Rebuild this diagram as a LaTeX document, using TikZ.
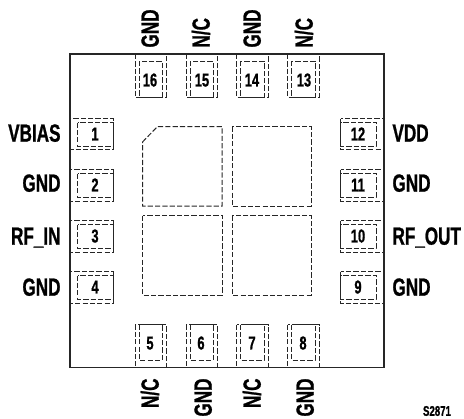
\documentclass[tikz,border=0pt]{standalone}
\usepackage{fontspec}
\setmainfont{Liberation Sans}
\newfontfamily\pinfont[FakeStretch=0.69,FakeBold=0.9]{Liberation Sans Bold}

\tikzset{every picture/.style={line width=0.75pt}}
\tikzset{
  padline/.style={draw=black!85,line width=0.75pt,dash pattern=on 3.9pt off 1.6pt},
  pinname/.style={inner sep=0pt,font=\pinfont\fontsize{18.6}{18.6}\selectfont,text height=13pt,text depth=0pt},
  padnum/.style={inner sep=0pt,font=\pinfont\fontsize{14}{14}\selectfont,text height=9.7pt,text depth=0pt},
  partnum/.style={inner sep=0pt,font=\pinfont\fontsize{10.5}{10.5}\selectfont}
}

\begin{document}
\begin{tikzpicture}[x=0.75pt,y=0.75pt,yscale=-1,xscale=1]
        \useasboundingbox (0,0) rectangle (464,418);

        %Shape: Left pads
        \draw [padline] (70,118.5) rectangle (113,149.5);
        \draw [padline] (77.5,122.5) rectangle (113,146);
        \draw [padline] (70,169.5) rectangle (113,201);
        \draw [padline] (77.5,173.5) rectangle (113,197);
        \draw [padline] (70,220.5) rectangle (113,252);
        \draw [padline] (77.5,224.5) rectangle (113,248);
        \draw [padline] (70,271.5) rectangle (113,303);
        \draw [padline] (77.5,275.5) rectangle (113,299);
        %Shape: Right pads
        \draw [padline] (340.5,118.5) rectangle (384,149.5);
        \draw [padline] (340.5,122.5) rectangle (376,146);
        \draw [padline] (340.5,169.5) rectangle (384,201);
        \draw [padline] (340.5,173.5) rectangle (376,197);
        \draw [padline] (340.5,220.5) rectangle (384,252);
        \draw [padline] (340.5,224.5) rectangle (376,248);
        \draw [padline] (340.5,271.5) rectangle (384,303);
        \draw [padline] (340.5,275.5) rectangle (376,299);
        %Shape: Top pads
        \draw [padline] (135,54) rectangle (166,97);
        \draw [padline] (139,61) rectangle (162,97);
        \draw [padline] (186,54) rectangle (217,97);
        \draw [padline] (190,61) rectangle (213,97);
        \draw [padline] (236.5,54) rectangle (268,97);
        \draw [padline] (240.5,61) rectangle (264,97);
        \draw [padline] (287.5,54) rectangle (319,97);
        \draw [padline] (291.5,61) rectangle (315,97);
        %Shape: Bottom pads
        \draw [padline] (135,324.5) rectangle (166,367.5);
        \draw [padline] (139,324.5) rectangle (162,360);
        \draw [padline] (186,324.5) rectangle (217,367.5);
        \draw [padline] (190,324.5) rectangle (213,360);
        \draw [padline] (236.5,324.5) rectangle (268,367.5);
        \draw [padline] (240.5,324.5) rectangle (264,360);
        \draw [padline] (287.5,324.5) rectangle (319,367.5);
        \draw [padline] (291.5,324.5) rectangle (315,360);
        %Shape: Centre paddles
        \draw [padline] (142.5,142) -- (157.5,126.5) -- (222,126.5) -- (222,206) -- (142.5,206) -- cycle;
        \draw [padline] (232,126.5) rectangle (311,206);
        \draw [padline] (142.5,215.5) rectangle (222,295);
        \draw [padline] (232,215.5) rectangle (311,295);
        %Shape: Package outline
        \draw [line width=1.2pt,draw=black!85] (70,54) rectangle (384,367.5);

        % Text Node
        \node [padnum] (num1) at (95,134) {1};
        \node [padnum] (num2) at (95,185) {2};
        \node [padnum] (num3) at (95,236) {3};
        \node [padnum] (num4) at (95,287) {4};
        \node [padnum] (num5) at (150,343) {5};
        \node [padnum] (num6) at (201,343) {6};
        \node [padnum] (num7) at (252,343) {7};
        \node [padnum] (num8) at (303,343) {8};
        \node [padnum] (num9) at (358,287) {9};
        \node [padnum] (num10) at (358,236) {10};
        \node [padnum] (num11) at (358,185) {11};
        \node [padnum] (num12) at (358,134) {12};
        \node [padnum] (num13) at (304,80) {13};
        \node [padnum] (num14) at (252,80) {14};
        \node [padnum] (num15) at (202,80) {15};
        \node [padnum] (num16) at (150,80) {16};

        % Text Node
        \node [pinname,anchor=east] (vbias) at (61,133) {VBIAS};
        \node [pinname,anchor=east] (gndb) at (61,183) {GND};
        \node [pinname,anchor=east] (rfin) at (61,236) {RF\_IN};
        \node [pinname,anchor=east] (gndd) at (61,287) {GND};
        \node [pinname,anchor=west] (vdd) at (392,133) {VDD};
        \node [pinname,anchor=west] (gndk) at (392,183) {GND};
        \node [pinname,anchor=west] (rfout) at (392,236) {RF\_OUT};
        \node [pinname,anchor=west] (gndi) at (392,287) {GND};
        \node [pinname,anchor=west,rotate=90] (gndp) at (150,48) {GND};
        \node [pinname,anchor=west,rotate=90] (ncl) at (201,48) {N/C};
        \node [pinname,anchor=west,rotate=90] (gndn) at (252,48) {GND};
        \node [pinname,anchor=west,rotate=90] (ncm) at (304,48) {N/C};
        \node [pinname,anchor=east,rotate=90] (nce) at (150,378) {N/C};
        \node [pinname,anchor=east,rotate=90] (gndf) at (203,378) {GND};
        \node [pinname,anchor=east,rotate=90] (ncg) at (252,378) {N/C};
        \node [pinname,anchor=east,rotate=90] (gndh) at (305,378) {GND};

        % Text Node
        \node [partnum] (part) at (437,411) {S2871};
\end{tikzpicture}
\end{document}
